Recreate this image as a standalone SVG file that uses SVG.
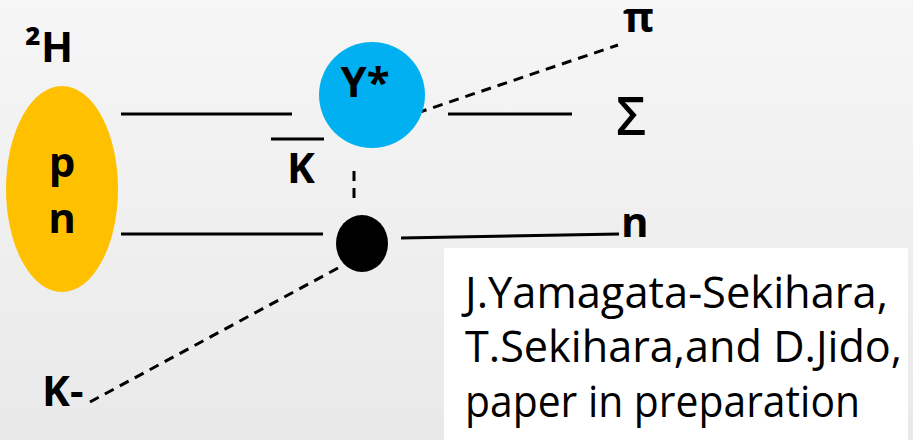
<svg xmlns="http://www.w3.org/2000/svg" width="913" height="440" viewBox="0 0 913 440">
<defs>
<linearGradient id="bg" x1="0" y1="0" x2="0" y2="1">
<stop offset="0" stop-color="#f6f6f6"/>
<stop offset="1" stop-color="#e9e9e9"/>
</linearGradient>
</defs>
<style>
.lbl{font-family:"Open Sans","Liberation Sans",sans-serif;font-weight:700;font-size:42px;fill:#000}
.ref{font-family:"Open Sans","Liberation Sans",sans-serif;font-size:44px;fill:#000}
.solid{stroke:#000;stroke-width:3;fill:none}
.dash{stroke:#000;stroke-width:3;fill:none;stroke-dasharray:10 7}
</style>
<rect x="0" y="0" width="913" height="440" fill="url(#bg)"/>
<g id="connectors">
<line class="solid" x1="121" y1="114" x2="292" y2="114"/>
<line class="solid" x1="271" y1="139" x2="324" y2="139"/>
<line class="solid" x1="448" y1="114" x2="572" y2="114"/>
<line class="solid" x1="121" y1="234" x2="323" y2="234"/>
<line class="solid" x1="401" y1="238" x2="619" y2="234"/>
<line class="dash" x1="417" y1="113" x2="618" y2="45"/>
<line class="dash" x1="354" y1="171" x2="354" y2="201"/>
<line class="dash" x1="338" y1="268" x2="90" y2="402"/>
</g>
<g id="deuteron">
<ellipse cx="62" cy="189" rx="56" ry="103" fill="#FFC000"/>
<text class="lbl" x="62" y="177" text-anchor="middle">p</text>
<text class="lbl" x="62" y="233" text-anchor="middle">n</text>
</g>
<g id="label-2H"><text class="lbl" x="25" y="62">²H</text></g>
<g id="ystar">
<circle cx="372" cy="95" r="53" fill="#00B0F0"/>
<text class="lbl" x="365" y="97" text-anchor="middle">Y*</text>
</g>
<g id="vertex"><ellipse cx="362" cy="243.5" rx="26" ry="28.5" fill="#000"/></g>
<g id="label-Kbar"><text class="lbl" x="301" y="183" text-anchor="middle">K</text></g>
<g id="label-pi"><text class="lbl" x="623" y="32">π</text></g>
<g id="label-sigma"><text class="lbl" x="616" y="135" style="font-size:52px;font-weight:600">Σ</text></g>
<g id="label-n"><text class="lbl" x="621" y="237">n</text></g>
<g id="label-Kminus"><text class="lbl" x="42" y="406">K-</text></g>
<g id="reference">
<rect x="444" y="248" width="464" height="200" fill="#fff"/>
<text class="ref" x="465" y="308" textLength="423" lengthAdjust="spacingAndGlyphs">J.Yamagata-Sekihara,</text>
<text class="ref" x="465" y="362" textLength="437" lengthAdjust="spacingAndGlyphs">T.Sekihara,and D.Jido,</text>
<text class="ref" x="465" y="417" textLength="395" lengthAdjust="spacingAndGlyphs">paper in preparation</text>
</g>
</svg>
